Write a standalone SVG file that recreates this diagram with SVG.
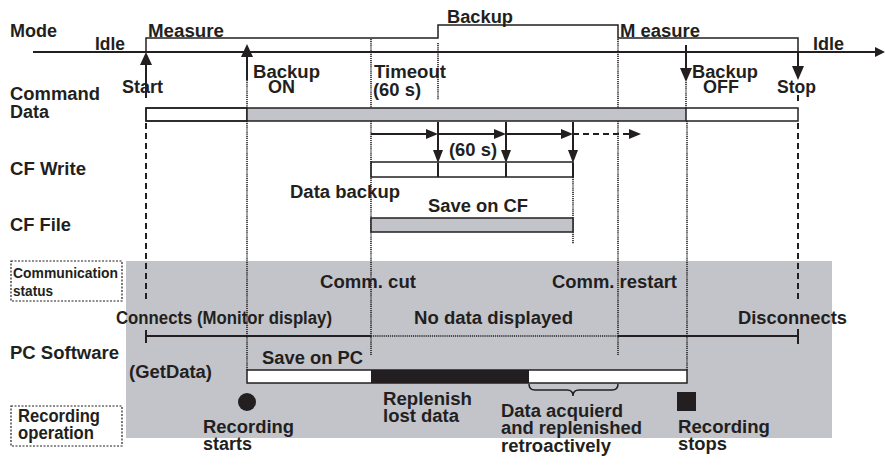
<svg xmlns="http://www.w3.org/2000/svg" width="885" height="476" viewBox="0 0 885 476">
<style>
.t{font-family:"Liberation Sans",Arial,sans-serif;font-weight:bold;font-size:17.5px;fill:#231f20}
.s{font-size:15px}
.ln{stroke:#231f20;stroke-width:2;fill:none}
.th{stroke:#231f20;stroke-width:1.5;fill:none}
.dot{stroke:#231f20;stroke-width:1.6;stroke-dasharray:1.2 0.9;fill:none}
.dash{stroke:#231f20;stroke-width:2;stroke-dasharray:6 4;fill:none}
.ah{fill:#231f20}
.gray{fill:#c2c4ca}
.box{fill:none;stroke:#231f20;stroke-width:1.2;stroke-dasharray:2 1.5}
</style>
<rect width="885" height="476" fill="#ffffff"/>
<g id="background">
<rect class="gray" x="126" y="261" width="706" height="177"/>
<rect class="box" x="11" y="261" width="111" height="40"/>
<rect class="box" x="11" y="406" width="111" height="40"/>
</g>
<g id="connectors">
<!-- mode axis -->
<path class="ln" d="M33,52 H877"/>
<polygon class="ah" points="885,52 875,47 875,57"/>
<!-- mode signal -->
<path class="th" d="M146,52 V38 H438 V25 H618 V38 H798 V52"/>
<!-- start arrow -->
<path class="ln" d="M146,64 V98"/>
<polygon class="ah" points="146,52 140,65 152,65"/>
<path class="dash" d="M146,123 V300"/>
<!-- backup on -->
<path class="ln" d="M247,56 V80"/>
<polygon class="ah" points="247,44 241,57 253,57"/>
<path class="dot" d="M247,80 V108 M247,121 V370"/>
<!-- timeout and others -->
<path class="dot" d="M371,39 V108 M371,121 V355"/>
<path class="dot" d="M438,43 V100"/>
<path class="dot" d="M618,39 V108 M618,121 V355"/>
<!-- backup off -->
<path class="ln" d="M686,45 V69"/>
<polygon class="ah" points="686,82 680,68 692,68"/>
<path class="dot" d="M686,82 V108 M687,121 V370"/>
<!-- stop -->
<path class="ln" d="M798,52 V67 M798,95 V101"/>
<polygon class="ah" points="798,80 792,66 804,66"/>
<path class="dash" d="M798,123 V302"/>
<!-- command data bar -->
<rect x="146" y="108" width="101" height="13" fill="#ffffff" class="th"/>
<rect x="247" y="108" width="439" height="13" class="gray"/>
<rect x="686" y="108" width="112" height="13" fill="#ffffff"/>
<rect x="146" y="108" width="652" height="13" class="th"/>
<path class="th" d="M247,108 V121 M686,108 V121"/>
<!-- CF write -->
<rect x="371" y="162" width="202" height="15" fill="#ffffff" class="th"/>
<path class="ln" d="M371,134 H428 M438,134 H496 M506,134 H563"/>
<polygon class="ah" points="438,134 426,129 426,139"/>
<polygon class="ah" points="506,134 494,129 494,139"/>
<polygon class="ah" points="573,134 561,129 561,139"/>
<path class="dash" d="M573,134 H630" stroke-dasharray="5 4"/>
<polygon class="ah" points="641,134 629,129 629,139"/>
<path class="ln" d="M438,122 V151 M438,163 V177 M506,122 V151 M506,163 V177 M573,122 V151 M573,163 V177"/>
<polygon class="ah" points="438,163 433,150 443,150"/>
<polygon class="ah" points="506,163 501,150 511,150"/>
<polygon class="ah" points="573,163 568,150 578,150"/>
<path class="dot" d="M573,177 V244"/>
<!-- CF file -->
<rect x="371" y="218" width="202" height="14" class="gray"/>
<rect x="371" y="218" width="202" height="14" class="th"/>
<!-- comm line -->
<path class="ln" d="M146,336 H371 M618,336 H798 M146,330 V343 M798,329 V344"/>
<path class="dot" d="M371,336 H618"/>
<!-- PC bar -->
<rect x="247" y="370" width="124" height="13" fill="#ffffff"/>
<rect x="371" y="370" width="158" height="13" fill="#231f20"/>
<rect x="529" y="370" width="158" height="13" fill="#ffffff"/>
<rect x="247" y="370" width="440" height="13" class="th"/>
<!-- brace -->
<path class="th" d="M529,384 q0,6 6,6 H567 q6,0 6,6 q0,-6 6,-6 H612 q6,0 6,-6"/>
</g>
<g id="markers">
<circle cx="247" cy="402" r="9" fill="#231f20"/>
<rect x="677" y="392" width="19" height="19" fill="#231f20"/>
</g>
<g id="labels">
<text class="t" x="10" y="37" textLength="47" lengthAdjust="spacingAndGlyphs">Mode</text>
<text class="t" x="95" y="50" textLength="30" lengthAdjust="spacingAndGlyphs">Idle</text>
<text class="t" x="148" y="37" textLength="76" lengthAdjust="spacingAndGlyphs">Measure</text>
<text class="t" x="447" y="23" textLength="66" lengthAdjust="spacingAndGlyphs">Backup</text>
<text class="t" x="620" y="37" textLength="80" lengthAdjust="spacingAndGlyphs">M easure</text>
<text class="t" x="813" y="50" textLength="31" lengthAdjust="spacingAndGlyphs">Idle</text>
<text class="t" x="10" y="100" textLength="90" lengthAdjust="spacingAndGlyphs">Command</text>
<text class="t" x="10" y="118" textLength="39" lengthAdjust="spacingAndGlyphs">Data</text>
<text class="t" x="122" y="93" textLength="41" lengthAdjust="spacingAndGlyphs">Start</text>
<text class="t" x="253" y="78" textLength="67" lengthAdjust="spacingAndGlyphs">Backup</text>
<text class="t" x="268" y="93" textLength="27" lengthAdjust="spacingAndGlyphs">ON</text>
<text class="t" x="374" y="78" textLength="72" lengthAdjust="spacingAndGlyphs">Timeout</text>
<text class="t" x="373" y="96" textLength="48" lengthAdjust="spacingAndGlyphs">(60 s)</text>
<text class="t" x="692" y="78" textLength="66" lengthAdjust="spacingAndGlyphs">Backup</text>
<text class="t" x="703" y="93" textLength="36" lengthAdjust="spacingAndGlyphs">OFF</text>
<text class="t" x="777" y="93" textLength="39" lengthAdjust="spacingAndGlyphs">Stop</text>
<text class="t" x="10" y="175" textLength="76" lengthAdjust="spacingAndGlyphs">CF Write</text>
<text class="t" x="449" y="156" textLength="48" lengthAdjust="spacingAndGlyphs">(60 s)</text>
<text class="t" x="290" y="198" textLength="110" lengthAdjust="spacingAndGlyphs">Data backup</text>
<text class="t" x="428" y="212" textLength="100" lengthAdjust="spacingAndGlyphs">Save on CF</text>
<text class="t" x="10" y="231" textLength="61" lengthAdjust="spacingAndGlyphs">CF File</text>
<text class="t s" x="13" y="278" textLength="105" lengthAdjust="spacingAndGlyphs">Communication</text>
<text class="t s" x="13" y="296" textLength="40" lengthAdjust="spacingAndGlyphs">status</text>
<text class="t" x="320" y="288" textLength="96" lengthAdjust="spacingAndGlyphs">Comm. cut</text>
<text class="t" x="552" y="288" textLength="125" lengthAdjust="spacingAndGlyphs">Comm. restart</text>
<text class="t" x="116" y="324" textLength="216" lengthAdjust="spacingAndGlyphs">Connects (Monitor display)</text>
<text class="t" x="414" y="324" textLength="159" lengthAdjust="spacingAndGlyphs">No data displayed</text>
<text class="t" x="738" y="324" textLength="109" lengthAdjust="spacingAndGlyphs">Disconnects</text>
<text class="t" x="10" y="359" textLength="109" lengthAdjust="spacingAndGlyphs">PC Software</text>
<text class="t" x="262" y="364" textLength="101" lengthAdjust="spacingAndGlyphs">Save on PC</text>
<text class="t" x="129" y="378" textLength="83" lengthAdjust="spacingAndGlyphs">(GetData)</text>
<text class="t" x="18" y="422" textLength="82" lengthAdjust="spacingAndGlyphs">Recording</text>
<text class="t" x="18" y="439" textLength="76" lengthAdjust="spacingAndGlyphs">operation</text>
<text class="t" x="203" y="433" textLength="91" lengthAdjust="spacingAndGlyphs">Recording</text>
<text class="t" x="203" y="450" textLength="49" lengthAdjust="spacingAndGlyphs">starts</text>
<text class="t" x="383" y="405" textLength="89" lengthAdjust="spacingAndGlyphs">Replenish</text>
<text class="t" x="383" y="422" textLength="76" lengthAdjust="spacingAndGlyphs">lost data</text>
<text class="t" x="501" y="417" textLength="122" lengthAdjust="spacingAndGlyphs">Data acquierd</text>
<text class="t" x="501" y="434" textLength="141" lengthAdjust="spacingAndGlyphs">and replenished</text>
<text class="t" x="501" y="452" textLength="110" lengthAdjust="spacingAndGlyphs">retroactively</text>
<text class="t" x="678" y="433" textLength="92" lengthAdjust="spacingAndGlyphs">Recording</text>
<text class="t" x="678" y="450" textLength="49" lengthAdjust="spacingAndGlyphs">stops</text>
</g>
</svg>
